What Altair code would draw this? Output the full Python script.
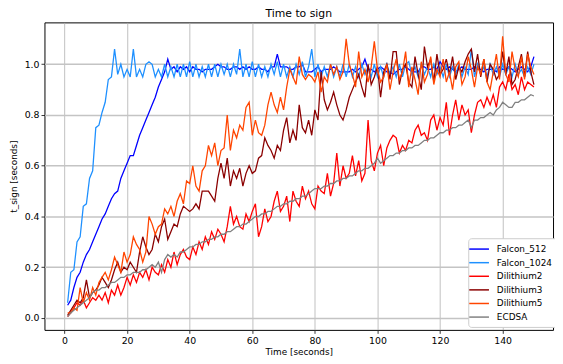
import altair as alt
import pandas as pd

time_s = list(range(1, 151))

falcon_512 = [
    0.05, 0.07, 0.12, 0.16, 0.18, 0.22, 0.25, 0.27, 0.30, 0.33,
    0.36, 0.39, 0.41, 0.44, 0.47, 0.49, 0.50, 0.55, 0.58, 0.61,
    0.64, 0.64, 0.68, 0.72, 0.75, 0.78, 0.81, 0.84, 0.87, 0.91,
    0.94, 0.97, 1.02,
    0.98, 0.99, 0.97, 0.99, 0.98, 0.99, 0.97, 0.99, 0.98, 0.98, 0.97, 0.98, 0.98, 0.98, 0.99, 1.00, 0.99,
    0.99, 0.98, 0.98, 0.99, 0.99, 0.98, 0.99, 0.98, 0.99, 0.98, 0.98, 0.99, 0.98, 0.98, 0.97, 0.99, 0.99, 1.04, 0.99, 0.99,
    0.99, 0.98, 0.98, 0.99, 0.99, 1.00, 0.97, 0.97, 0.97, 0.98, 0.99, 0.97, 0.98, 0.98, 0.98, 0.99, 0.98, 0.97, 0.97, 0.97,
    0.97, 0.98, 0.97, 0.98, 0.99, 1.02, 0.98, 0.98, 0.97, 0.98, 0.99, 0.98, 0.97, 0.97, 0.96, 0.97, 0.98, 0.98, 0.99, 0.98,
    0.97, 0.97, 0.97, 0.99, 0.99, 0.98, 0.98, 0.99, 0.98, 1.01, 0.99, 0.98, 0.99, 0.98, 0.97, 0.98, 0.99, 0.98, 0.98, 0.98,
    0.99, 0.98, 0.98, 0.97, 0.98, 0.98, 0.98, 0.97, 0.99, 0.98, 0.98, 0.99, 0.98, 0.97, 0.98, 0.99, 0.98, 0.97, 0.99, 1.03,
]

falcon_1024 = [
    0.06, 0.18, 0.19, 0.30, 0.32, 0.44, 0.45, 0.55, 0.58, 0.75, 0.76, 0.81, 0.85, 0.94, 0.95, 1.06,
    0.96, 1.00, 0.95, 0.98, 0.95, 1.06, 0.95, 0.98, 0.95, 1.00, 1.01, 1.00, 0.95, 0.98,
    0.95, 1.00, 0.95, 0.99, 0.95, 1.00, 0.95, 1.00, 0.95, 1.01, 0.95, 1.00, 0.95, 0.99, 0.95, 1.00, 0.95, 1.00, 0.95, 1.00,
    0.96, 1.00, 0.95, 1.00, 0.96, 1.06, 0.95, 1.00, 0.95, 1.01, 0.95, 1.00, 0.95, 0.99, 0.95, 1.00, 0.96, 1.01, 0.95, 1.00,
    0.95, 0.99, 0.95, 1.00, 0.96, 1.01, 0.95, 0.99, 1.06, 0.95, 1.00, 0.95, 0.99, 0.95, 1.00, 0.95, 0.99, 0.95, 1.00, 0.95,
    1.00, 0.95, 0.99, 0.95, 1.00, 0.96, 0.99, 0.95, 1.00, 0.95, 0.99, 0.95, 1.00, 0.96, 0.99, 0.95, 1.00, 0.95, 1.00, 1.01,
    0.96, 0.99, 0.95, 1.00, 0.96, 0.99, 0.95, 1.00, 0.96, 0.99, 0.95, 1.00, 0.95, 0.99, 0.96, 1.00, 0.95, 0.99, 0.96, 1.06,
    0.95, 1.00, 0.96, 0.99, 0.95, 1.00, 0.96, 0.99, 0.95, 1.00, 0.96, 0.99, 0.95, 1.00, 0.96, 0.98, 0.95, 0.99, 0.96, 1.00,
]

dilithium2 = [
    0.005, 0.02, 0.04, 0.06, 0.05, 0.07, 0.04, 0.06, 0.08, 0.07,
    0.09, 0.07, 0.10, 0.06, 0.11, 0.09, 0.13, 0.09, 0.12, 0.16,
    0.13, 0.17, 0.14, 0.18, 0.16, 0.19, 0.15, 0.20, 0.18, 0.17,
    0.21, 0.18, 0.23, 0.20, 0.26, 0.21, 0.25, 0.27, 0.24, 0.23,
    0.28, 0.25, 0.30, 0.27, 0.32, 0.29, 0.34, 0.31, 0.35, 0.33,
    0.30, 0.36, 0.44, 0.37, 0.40, 0.36, 0.35, 0.41, 0.38, 0.42,
    0.45, 0.32, 0.36, 0.43, 0.38, 0.40, 0.46, 0.50, 0.42, 0.44,
    0.48, 0.38, 0.50, 0.46, 0.44, 0.52, 0.47, 0.50, 0.45, 0.43,
    0.52, 0.50, 0.49, 0.57, 0.48, 0.53, 0.65, 0.52, 0.60, 0.55,
    0.57, 0.64, 0.56, 0.62, 0.54, 0.57, 0.78, 0.62, 0.58, 0.65,
    0.68, 0.60, 0.67, 0.70, 0.72, 0.71, 0.65, 0.68, 0.66, 0.70,
    0.69, 0.74, 0.76, 0.72, 0.73, 0.70, 0.78, 0.80, 0.74, 0.79,
    0.76, 0.85, 0.72, 0.80, 0.86, 0.78, 0.84, 0.80, 0.82, 0.73,
    0.80, 0.85, 0.86, 0.83, 0.87, 0.84, 0.88, 0.83, 0.91, 0.93,
    0.90, 0.96, 0.90, 0.92, 0.88, 0.95, 0.90, 0.93, 0.92, 0.91,
]

dilithium3 = [
    0.01, 0.03, 0.05, 0.07, 0.06, 0.08, 0.15, 0.08, 0.10, 0.11,
    0.13, 0.16, 0.14, 0.12, 0.15, 0.19, 0.22, 0.18, 0.20, 0.19,
    0.22, 0.20, 0.18, 0.26, 0.32, 0.28, 0.25, 0.27, 0.33, 0.30,
    0.36, 0.39, 0.31, 0.34, 0.37, 0.36, 0.41, 0.44, 0.43, 0.42,
    0.43, 0.45, 0.43, 0.50, 0.50, 0.50, 0.48, 0.46, 0.55, 0.61,
    0.55, 0.63, 0.52, 0.58, 0.55, 0.59, 0.52, 0.57, 0.60, 0.57,
    0.58, 0.63, 0.64, 0.71, 0.68, 0.66, 0.63, 0.68, 0.66, 0.74,
    0.79, 0.69, 0.74, 0.70, 0.84, 0.75, 0.73, 0.78, 0.72, 0.82,
    0.78, 0.97, 0.86, 0.82, 0.85, 0.89, 0.84, 0.80, 0.78, 0.82,
    0.87, 0.90, 0.93, 0.96, 0.91, 0.87, 1.00, 0.92, 0.95, 0.99,
    0.87, 0.97, 1.00, 0.94, 1.05, 1.05, 0.92, 0.98, 1.00, 0.93,
    0.91, 1.03, 0.96, 0.90, 1.07, 0.99, 1.02, 0.93, 1.04, 0.96,
    0.98, 1.02, 0.96, 1.03, 0.94, 0.99, 0.97, 1.01, 1.04, 1.06,
    0.97, 1.04, 0.95, 1.02, 0.93, 1.00, 0.98, 0.94, 0.96, 1.05,
    0.96, 1.03, 0.92, 0.94, 0.99, 1.04, 0.95, 1.05, 0.97, 0.92,
]

dilithium5 = [
    0.02, 0.02, 0.04, 0.03, 0.12, 0.06, 0.10, 0.07, 0.12, 0.09,
    0.14, 0.16, 0.18, 0.15, 0.19, 0.24, 0.21, 0.18, 0.26, 0.22,
    0.25, 0.32, 0.29, 0.27, 0.22, 0.26, 0.40, 0.37, 0.33, 0.36,
    0.37, 0.43, 0.41, 0.44, 0.40, 0.46, 0.49, 0.45, 0.54, 0.53,
    0.60, 0.52, 0.50, 0.58, 0.60, 0.68, 0.64, 0.69, 0.60, 0.66,
    0.67, 0.80, 0.66, 0.74, 0.71, 0.76, 0.74, 0.83, 0.85, 0.72,
    0.78, 0.73, 0.72, 0.76, 0.84, 0.89, 0.84, 0.81, 0.87, 0.82,
    0.91, 0.98, 0.95, 0.92, 1.03, 0.96, 0.94, 0.96, 0.95, 0.93,
    0.97, 0.89, 0.95, 0.93, 1.00, 0.96, 0.99, 0.94, 0.97, 1.10,
    1.00, 0.96, 0.91, 1.05, 0.95, 0.98, 0.93, 0.99, 1.09, 0.98,
    0.93, 0.95, 1.00, 0.90, 0.97, 1.02, 0.94, 0.97, 1.05, 0.91,
    0.99, 0.94, 0.88, 1.01, 0.93, 0.96, 1.03, 0.92, 0.98, 0.95,
    1.02, 0.93, 0.97, 0.90, 0.99, 1.01, 0.92, 0.95, 1.03, 0.98,
    0.91, 0.99, 0.96, 1.02, 0.93, 0.90, 0.97, 1.04, 0.94, 1.11,
    0.96, 0.93, 1.05, 0.98, 0.95, 1.03, 0.94, 1.04, 0.99, 0.96,
]

ecdsa = [
    0.005, 0.02, 0.03, 0.04, 0.05, 0.06, 0.07, 0.08, 0.10, 0.11,
    0.11, 0.12, 0.12, 0.13, 0.14, 0.14, 0.15, 0.16, 0.16, 0.17,
    0.17, 0.18, 0.18, 0.18, 0.19, 0.19, 0.20, 0.21, 0.20, 0.22,
    0.18, 0.23, 0.25, 0.24, 0.25, 0.24, 0.26, 0.26, 0.27, 0.28,
    0.28, 0.29, 0.29, 0.30, 0.30, 0.31, 0.31, 0.32, 0.32, 0.33,
    0.33, 0.34, 0.34, 0.35, 0.36, 0.36, 0.37, 0.37, 0.38, 0.39,
    0.40, 0.40, 0.41, 0.41, 0.42, 0.42, 0.43, 0.44, 0.44, 0.45,
    0.45, 0.46, 0.46, 0.47, 0.47, 0.48, 0.48, 0.49, 0.50, 0.51,
    0.51, 0.51, 0.52, 0.52, 0.53, 0.53, 0.54, 0.54, 0.55, 0.55,
    0.56, 0.56, 0.57, 0.58, 0.58, 0.59, 0.59, 0.60, 0.61, 0.63,
    0.61, 0.62, 0.63, 0.64, 0.64, 0.65, 0.65, 0.66, 0.66, 0.67,
    0.67, 0.68, 0.68, 0.69, 0.70, 0.70, 0.71, 0.71, 0.72, 0.73,
    0.73, 0.74, 0.74, 0.75, 0.75, 0.76, 0.76, 0.77, 0.78, 0.75,
    0.78, 0.78, 0.79, 0.79, 0.80, 0.81, 0.80, 0.82, 0.83, 0.85,
    0.84, 0.83, 0.83, 0.85, 0.85, 0.86, 0.86, 0.87, 0.88, 0.875,
]

series_names = ["Falcon_512", "Falcon_1024", "Dilithium2", "Dilithium3", "Dilithium5", "ECDSA"]
series_colors = ["#0000ff", "#1e90ff", "#ff0000", "#8b0000", "#ff4500", "#808080"]
series_values = [falcon_512, falcon_1024, dilithium2, dilithium3, dilithium5, ecdsa]

x_ticks = [0, 20, 40, 60, 80, 100, 120, 140]
y_ticks = [0.0, 0.2, 0.4, 0.6, 0.8, 1.0]

rows = []
for idx, (name, vals) in enumerate(zip(series_names, series_values)):
    assert len(vals) == len(time_s), (name, len(vals))
    for t, v in zip(time_s, vals):
        rows.append({"time": t, "t_sign": v, "scheme": name, "k": idx})
df = pd.DataFrame(rows)

FONT = "DejaVu Sans"

chart = alt.Chart(df).mark_line(strokeWidth=1.3, clip=True).encode(
    x=alt.X("time:Q",
            scale=alt.Scale(domain=[-6.4, 156.1], nice=False, zero=False),
            axis=alt.Axis(values=x_ticks, title="Time [seconds]", format="d")),
    y=alt.Y("t_sign:Q",
            scale=alt.Scale(domain=[-0.047, 1.165], nice=False, zero=False),
            axis=alt.Axis(values=y_ticks, title="t_sign [seconds]", format=".1f",
                          gridColor="#c4c4c4", gridWidth=1.4)),
    color=alt.Color("scheme:N",
                    scale=alt.Scale(domain=series_names, range=series_colors),
                    sort=series_names,
                    legend=alt.Legend(
                        title=None, orient="none", legendX=430, legendY=219,
                        symbolType="M-2,0H2", symbolSize=100, symbolStrokeWidth=1.5,
                        labelFont=FONT, labelFontSize=9, labelColor="#000000",
                        labelOffset=12, rowPadding=2.8, padding=5,
                        fillColor="#ffffff", strokeColor="#cccccc", cornerRadius=3)),
    order=alt.Order("k:Q"),
    detail="scheme:N",
).properties(
    width=516, height=312,
    autosize=alt.AutoSizeParams(type="none"),
    padding={"left": 37, "top": 12, "right": 2, "bottom": 32},
    title=alt.Title("Time to sign", font=FONT, fontSize=11, fontWeight="normal",
                    color="#000000", offset=3),
).configure_view(
    stroke="#000000", strokeWidth=1
).configure_axis(
    labelFont=FONT, labelFontSize=9.5, labelColor="#000000",
    titleFont=FONT, titleFontSize=9, titleFontWeight="normal", titleColor="#000000",
    grid=True, gridColor="#b0b0b0", gridWidth=0.8,
    domain=False, tickColor="#000000", tickSize=3.5, tickWidth=0.8, labelPadding=2,
).configure_axisY(
    titlePadding=6
).configure_axisX(
    titlePadding=3
)

chart.save("out.html", embed_options={"renderer": "svg", "actions": False})
